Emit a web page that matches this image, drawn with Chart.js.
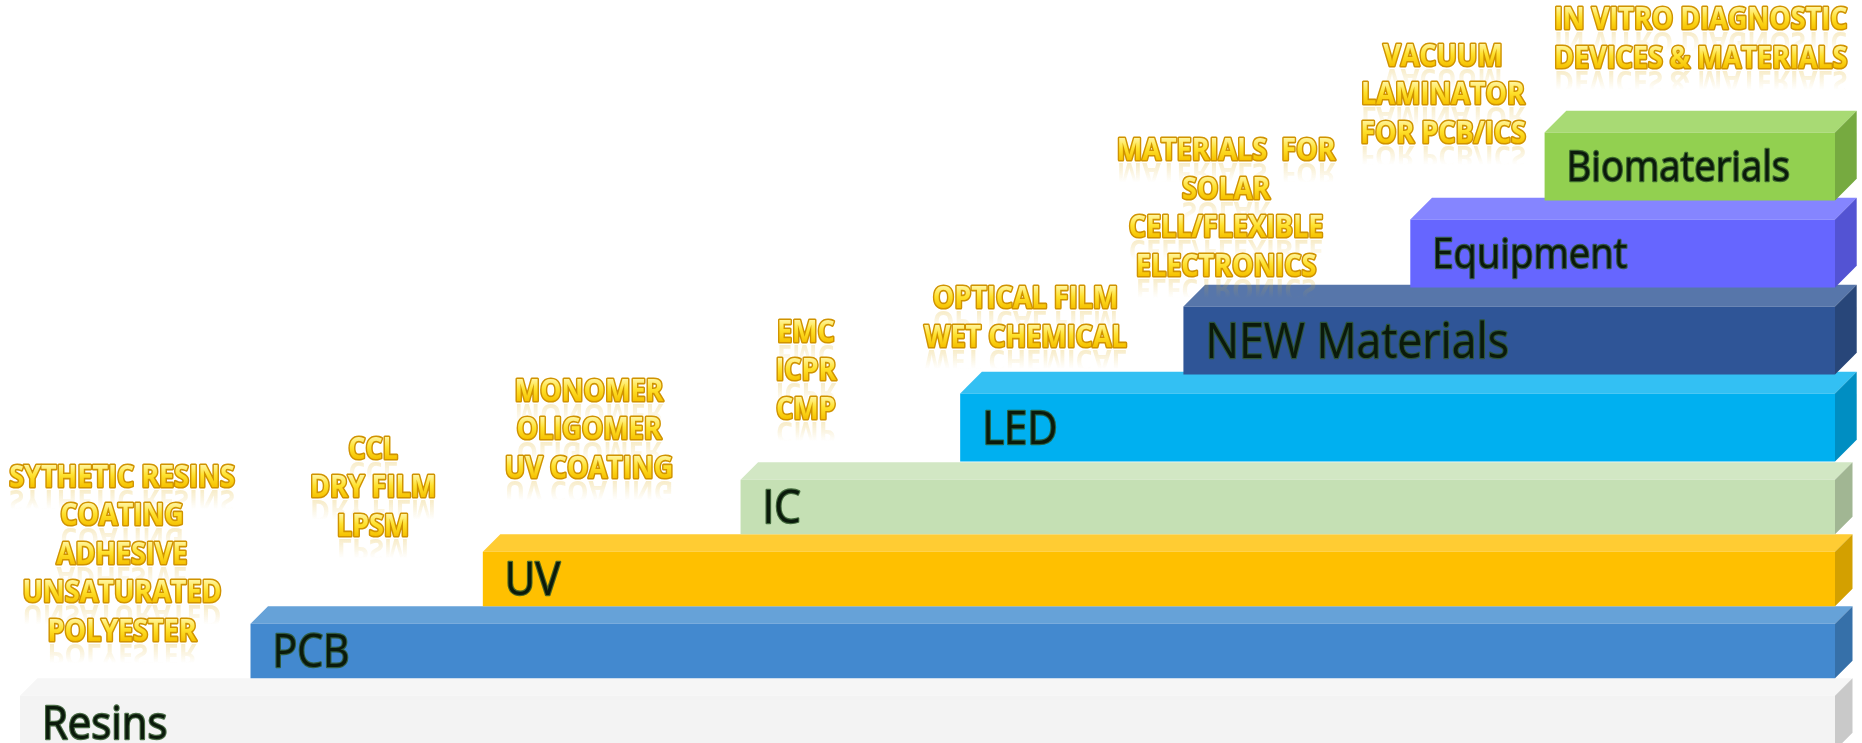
<!DOCTYPE html>
<html>
<head>
<meta charset="utf-8">
<title>Technology tiers</title>
<script src="https://cdn.jsdelivr.net/npm/chart.js@4/dist/chart.umd.min.js"></script>
<style>
  html, body { margin: 0; padding: 0; background: #ffffff; overflow: hidden; }
  #frame { width: 1862px; height: 743px; overflow: hidden; }
  #stage { position: relative; width: 1862px; height: 760px; }
</style>
</head>
<body>
<div id="frame"><div id="stage"><canvas id="tiers"></canvas></div></div>
<script>
// Tiers from the top step down to the base layer
const tierNames = ['Biomaterials', 'Equipment', 'NEW Materials', 'LED', 'IC', 'UV', 'PCB', 'Resins'];
// Where each tier begins and ends along the horizontal axis (0-100)
const tierStart = [84.0, 76.6, 64.1, 51.8, 39.7, 25.5, 12.7, 0];
const tierEnd = [100, 100, 100, 100, 100, 100, 100, 100];
// Product lines written above each step
const tierProducts = [
  ['IN VITRO DIAGNOSTIC', 'DEVICES & MATERIALS'],
  ['VACUUM', 'LAMINATOR', 'FOR PCB/ICS'],
  ['MATERIALS  FOR', 'SOLAR', 'CELL/FLEXIBLE', 'ELECTRONICS'],
  ['OPTICAL FILM', 'WET CHEMICAL'],
  ['EMC', 'ICPR', 'CMP'],
  ['MONOMER', 'OLIGOMER', 'UV COATING'],
  ['CCL', 'DRY FILM', 'LPSM'],
  ['SYTHETIC RESINS', 'COATING', 'ADHESIVE', 'UNSATURATED', 'POLYESTER']
];

// ---- styling ----
const UPPER_COUNT = 4;               // the upper tiers sit on their own, taller band axis
const frontColor = ['#92d050', '#6666ff', '#2f5597', '#00b0f0', '#c5e0b4', '#ffc000', '#4389cf', '#f3f3f3'];
const topColor   = ['#a8da74', '#8585ff', '#5776aa', '#33c0f3', '#d2e7c4', '#ffcc33', '#66a2d8', '#f6f6f6'];
const sideColor  = ['#76aa40', '#5353d3', '#284679', '#008ec2', '#a1b693', '#d3a000', '#3670a9', '#c9c9c9'];
const labelSize  = [42, 42, 49, 46, 46, 46, 45, 46];
const noteCenter = [92.6, 78.4, 66.45, 55.4, 43.3, 31.35, 19.45, 5.62]; // x-axis units
const noteLift   = [54, 66, 20, 36, 54, 67, 81, 48];                    // px above the top face
const NOTE_LINE = 38.5;
const NOTE_SIZE = 30;
const NOTE_SQUEEZE = 0.9;
const LABEL_SQUEEZE = 0.91;
const DEPTH_RATIO = 0.32;

const upperIdx = tierNames.map((_, i) => i).filter(i => i < UPPER_COUNT);
const lowerIdx = tierNames.map((_, i) => i).filter(i => i >= UPPER_COUNT);

function tierPoints(idx) {
  return idx.map(i => ({ y: tierNames[i], x: [tierStart[i], tierEnd[i]] }));
}

function drawNoteLine(ctx, text, cx, cy) {
  ctx.font = 'bold ' + NOTE_SIZE + 'px "Open Sans", "Liberation Sans", sans-serif';
  ctx.textAlign = 'center';
  ctx.textBaseline = 'alphabetic';
  const cap = NOTE_SIZE * 0.714;
  const by = cy + cap / 2;

  // faint mirrored reflection under the line
  ctx.save();
  ctx.translate(cx, by + 3);
  ctx.scale(NOTE_SQUEEZE, -1);
  const rg = ctx.createLinearGradient(0, 0, 0, -cap * 0.9);
  rg.addColorStop(0, 'rgba(225,180,40,0.26)');
  rg.addColorStop(1, 'rgba(225,180,40,0)');
  ctx.fillStyle = rg;
  ctx.fillText(text, 0, 0);
  ctx.restore();

  ctx.save();
  ctx.translate(cx, by);
  ctx.scale(NOTE_SQUEEZE, 1);
  ctx.lineJoin = 'round';
  ctx.lineWidth = 3.2;
  ctx.strokeStyle = '#d09300';
  ctx.strokeText(text, 0, 0);
  const g = ctx.createLinearGradient(0, -cap, 0, 0);
  g.addColorStop(0, '#fff49a');
  g.addColorStop(0.45, '#ffe22e');
  g.addColorStop(1, '#f6c200');
  ctx.fillStyle = g;
  ctx.fillText(text, 0, 0);
  ctx.restore();
}

function drawTierLabel(ctx, text, x, cy, size) {
  ctx.font = size + 'px "Open Sans", "Noto Sans", sans-serif';
  ctx.textAlign = 'left';
  ctx.textBaseline = 'alphabetic';
  const by = cy + size * 0.714 / 2;
  ctx.save();
  ctx.translate(x, by);
  ctx.scale(LABEL_SQUEEZE, 1);
  ctx.lineJoin = 'round';
  ctx.lineWidth = 2.4;
  ctx.strokeStyle = 'rgba(45,85,40,0.85)';
  ctx.strokeText(text, 0, 0);
  ctx.fillStyle = '#0b1a0b';
  ctx.fillText(text, 0, 0);
  ctx.restore();
}

// Geometry of every tier's front face, read from the drawn bar elements
function tierBoxes(chart) {
  const boxes = [];
  chart.data.datasets.forEach((ds, di) => {
    const meta = chart.getDatasetMeta(di);
    meta.data.forEach((bar, k) => {
      const p = bar.getProps(['x', 'y', 'base', 'height'], true);
      const t = ds.tiers[k];
      boxes[t] = {
        x0: Math.min(p.base, p.x), x1: Math.max(p.base, p.x),
        yt: p.y - p.height / 2, yb: p.y + p.height / 2,
        d: p.height * DEPTH_RATIO
      };
    });
  });
  return boxes;
}

// Top and side faces go underneath the front faces
const tierFaces = {
  id: 'tierFaces',
  beforeDatasetsDraw(chart) {
    const ctx = chart.ctx;
    const boxes = tierBoxes(chart);
    for (let t = boxes.length - 1; t >= 0; t--) {
      const b = boxes[t];
      if (!b) continue;
      ctx.save();
      ctx.beginPath();
      ctx.moveTo(b.x0, b.yt);
      ctx.lineTo(b.x0 + b.d, b.yt - b.d);
      ctx.lineTo(b.x1 + b.d, b.yt - b.d);
      ctx.lineTo(b.x1, b.yt);
      ctx.closePath();
      ctx.fillStyle = topColor[t];
      ctx.fill();
      ctx.beginPath();
      ctx.moveTo(b.x1, b.yt);
      ctx.lineTo(b.x1 + b.d, b.yt - b.d);
      ctx.lineTo(b.x1 + b.d, b.yb - b.d);
      ctx.lineTo(b.x1, b.yb);
      ctx.closePath();
      ctx.fillStyle = sideColor[t];
      ctx.fill();
      ctx.restore();
    }
  },
  afterDatasetsDraw(chart) {
    const ctx = chart.ctx;
    const xs = chart.scales.x;
    const boxes = tierBoxes(chart);
    boxes.forEach((b, t) => {
      drawTierLabel(ctx, tierNames[t], b.x0 + 22, (b.yt + b.yb) / 2, labelSize[t]);
      const lines = tierProducts[t];
      const cx = xs.getPixelForValue(noteCenter[t]);
      const lastY = b.yt - b.d - noteLift[t];
      lines.forEach((line, j) => {
        drawNoteLine(ctx, line, cx, lastY - (lines.length - 1 - j) * NOTE_LINE);
      });
    });
  }
};

new Chart(document.getElementById('tiers'), {
  type: 'bar',
  data: {
    datasets: [
      {
        label: 'Upper tiers',
        tiers: upperIdx,
        yAxisID: 'yUpper',
        data: tierPoints(upperIdx),
        backgroundColor: upperIdx.map(i => frontColor[i]),
        borderWidth: 0,
        grouped: false,
        barPercentage: 0.78,
        categoryPercentage: 1
      },
      {
        label: 'Lower tiers',
        tiers: lowerIdx,
        yAxisID: 'yLower',
        data: tierPoints(lowerIdx),
        backgroundColor: lowerIdx.map(i => frontColor[i]),
        borderWidth: 0,
        grouped: false,
        barPercentage: 0.76,
        categoryPercentage: 1
      }
    ]
  },
  options: {
    indexAxis: 'y',
    responsive: true,
    maintainAspectRatio: false,
    animation: false,
    layout: { padding: { left: 20, right: 27, top: 123, bottom: 1 } },
    plugins: { legend: { display: false }, tooltip: { enabled: false } },
    scales: {
      x: { type: 'linear', min: 0, max: 100, display: false },
      yUpper: {
        type: 'category', labels: upperIdx.map(i => tierNames[i]),
        position: 'left', stack: 'tiers', stackWeight: 87, weight: 2,
        offset: true, display: false
      },
      yLower: {
        type: 'category', labels: lowerIdx.map(i => tierNames[i]),
        position: 'left', stack: 'tiers', stackWeight: 72, weight: 1,
        offset: true, display: false
      }
    }
  },
  plugins: [tierFaces]
});
</script>
</body>
</html>
